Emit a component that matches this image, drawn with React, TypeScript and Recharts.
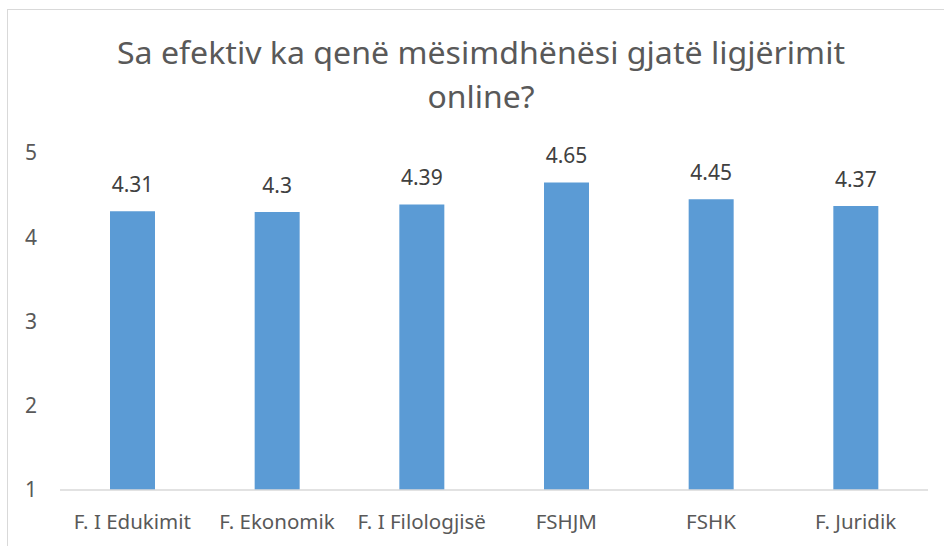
import React from "react";
import { BarChart, Bar, XAxis, YAxis, LabelList } from "recharts";

const categories = ["F. I Edukimit", "F. Ekonomik", "F. I Filologjisë", "FSHJM", "FSHK", "F. Juridik"];
const values = [4.31, 4.3, 4.39, 4.65, 4.45, 4.37];
const yTicks = [1, 2, 3, 4, 5];
const titleLines = ["Sa efektiv ka qenë mësimdhënësi gjatë ligjërimit", "online?"];

const data = categories.map((name, i) => ({ name, value: values[i] }));

const FONT = "'Noto Sans', 'Open Sans', sans-serif";

export default function App() {
  return (
    <div style={{ position: "absolute", left: 0, top: 0, width: 944, height: 546, background: "#fff", overflow: "hidden" }}>
      <div
        style={{
          position: "absolute",
          left: 7,
          top: 9,
          width: 937,
          height: 537,
          borderLeft: "1px solid #d9d9d9",
          borderTop: "1px solid #d9d9d9",
          boxSizing: "border-box",
        }}
      />
      <svg width={944} height={130} style={{ position: "absolute", left: 0, top: 0 }}>
        <text x={481} y={64} textAnchor="middle" fontFamily={FONT} fontSize={31} fontWeight={400} fill="#595959" textLength={728} lengthAdjust="spacingAndGlyphs">
          {titleLines[0]}
        </text>
        <text x={481} y={108} textAnchor="middle" fontFamily={FONT} fontSize={31} fontWeight={400} fill="#595959" textLength={107} lengthAdjust="spacingAndGlyphs">
          {titleLines[1]}
        </text>
      </svg>
      <div style={{ position: "absolute", left: 0, top: 0 }}>
        <BarChart width={944} height={546} data={data} margin={{ top: 153, right: 16, bottom: 0, left: 0 }} barCategoryGap={0}>
          <XAxis
            dataKey="name"
            height={56}
            axisLine={{ stroke: "#d9d9d9", strokeWidth: 1.5 }}
            tickLine={false}
            tickSize={0}
            tickMargin={24}
            interval={0}
            tick={{ fill: "#595959", fontSize: 20.5, fontFamily: FONT }}
          />
          <YAxis
            width={60}
            domain={[1, 5]}
            ticks={yTicks}
            axisLine={false}
            tickLine={false}
            tickSize={0}
            tickMargin={23}
            tick={{ fill: "#595959", fontSize: 21, fontFamily: FONT }}
          />
          <Bar dataKey="value" fill="#5B9BD5" barSize={45} isAnimationActive={false}>
            <LabelList dataKey="value" position="top" offset={19} fill="#404040" fontSize={21} fontFamily={FONT} />
          </Bar>
        </BarChart>
      </div>
    </div>
  );
}
